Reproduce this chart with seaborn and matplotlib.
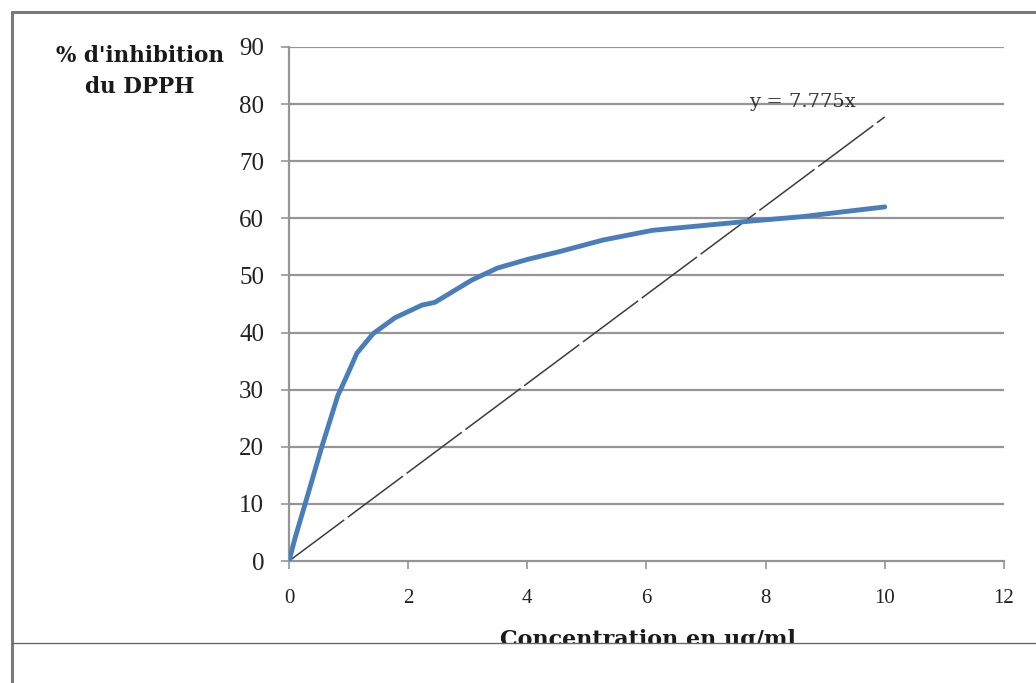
import matplotlib
matplotlib.use("Agg")
import matplotlib.pyplot as plt
from matplotlib.lines import Line2D
from matplotlib.patches import Rectangle
import seaborn as sns
import pandas as pd

# data
concentration = [0, 0.1, 0.27, 0.55, 0.82, 0.94, 1.14, 1.41, 1.78, 2.23, 2.45,
                 3.07, 3.5, 4.0, 4.55, 5.27, 6.1, 7.62, 8.62, 10.0]
inhibition = [0, 4, 10, 20, 29, 31.7, 36.4, 39.8, 42.6, 44.8, 45.3,
              49.2, 51.3, 52.8, 54.2, 56.2, 57.9, 59.4, 60.3, 62.0]
slope = 7.775
trend_x = [0, 10]
x_ticks = [0, 2, 4, 6, 8, 10, 12]
y_ticks = [0, 10, 20, 30, 40, 50, 60, 70, 80, 90]

df = pd.DataFrame({"conc": concentration, "inh": inhibition})
trend = pd.DataFrame({"conc": trend_x, "inh": [slope * v for v in trend_x]})

sns.set_style("white")
plt.rcParams["font.family"] = ["Liberation Serif", "DejaVu Serif"]

fig = plt.figure(figsize=(10.36, 6.83), dpi=100)
ax = fig.add_axes([0.279, 0.1786, 0.69, 0.7526])

grid_col = "#959595"
for v in y_ticks[1:]:
    ax.axhline(v, color=grid_col, lw=1.6, zorder=1)

sns.lineplot(data=trend, x="conc", y="inh", ax=ax, color="#3d3d3d", lw=1.1,
             linestyle=(0, (45, 3)), zorder=2)
sns.lineplot(data=df, x="conc", y="inh", ax=ax, color="#4a7ebb", lw=3.5,
             zorder=3, sort=False)

ax.set_xlim(0, 12)
ax.set_ylim(0, 90)
ax.set_xticks(x_ticks)
ax.set_yticks(y_ticks)
ax.set_xlabel("")
ax.set_ylabel("")
for s in ["top", "right"]:
    ax.spines[s].set_visible(False)
for s in ["left", "bottom"]:
    ax.spines[s].set_color(grid_col)
    ax.spines[s].set_linewidth(1.6)
ax.tick_params(axis="x", direction="out", length=6, width=1.2, color=grid_col,
               labelsize=15, pad=14, labelcolor="#222222")
ax.tick_params(axis="y", direction="out", length=6, width=1.2, color=grid_col,
               labelsize=18, pad=12, labelcolor="#222222")
ax.tick_params(bottom=True, left=True)

ax.text(8.61, 79.5, "y = 7.775x", fontsize=14, ha="center", va="baseline",
        color="#333333", family="DejaVu Serif", zorder=4)

# y axis title, two lines
fig.text(0.135, 1 - 62 / 683, "% d'inhibition", fontsize=15.5, fontweight="bold",
         ha="center", va="baseline", color="#1a1a1a", family="DejaVu Serif")
fig.text(0.135, 1 - 93 / 683, "du DPPH", fontsize=15.5, fontweight="bold",
         ha="center", va="baseline", color="#1a1a1a", family="DejaVu Serif")

# x axis title, partly cut by the crop line
fig.text(0.625, 1 - 646 / 683, "Concentration en µg/ml", fontsize=16,
         fontweight="bold", ha="center", va="baseline", color="#1a1a1a",
         family="DejaVu Serif")

# white area below the crop line, hiding the bottom of the label
fig.add_artist(Rectangle((0, 0), 1, 0.0585, transform=fig.transFigure,
                         facecolor="white", edgecolor="none", zorder=10))

frame_col = "#7a7a7a"
fig.add_artist(Line2D([0.0116, 1], [0.9824, 0.9824], transform=fig.transFigure,
                      color=frame_col, lw=2.2, zorder=11))
fig.add_artist(Line2D([0.0116, 0.0116], [0, 0.9824], transform=fig.transFigure,
                      color=frame_col, lw=2.2, zorder=11))
fig.add_artist(Line2D([0.0116, 1], [0.0585, 0.0585], transform=fig.transFigure,
                      color="#6a6a6a", lw=1.0, zorder=11))

fig.savefig("out.png", dpi=100, facecolor="white")
